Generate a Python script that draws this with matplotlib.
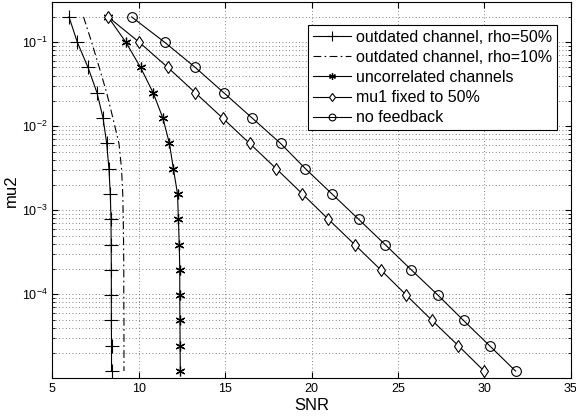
import numpy as np
import matplotlib.pyplot as plt
from matplotlib.ticker import LogLocator, NullFormatter, FixedLocator

plt.rcParams['font.family'] = ['Liberation Sans', 'DejaVu Sans']

mu2 = [0.2, 0.1, 0.05, 0.025, 0.0125, 0.00625, 0.003125, 0.0015625,
       7.8125e-4, 3.90625e-4, 1.953125e-4, 9.765625e-5, 4.8828125e-5,
       2.44140625e-5, 1.220703125e-5]

snr_rho50 = [5.96, 6.44, 7.06, 7.58, 7.93, 8.14, 8.27, 8.35, 8.39, 8.40,
             8.41, 8.41, 8.41, 8.42, 8.42]
snr_rho10 = [6.80, 7.27, 7.71, 8.14, 8.50, 8.85, 9.00, 9.07, 9.10, 9.12,
             9.13, 9.13, 9.14, 9.14, 9.14]
snr_uncorr = [8.22, 9.25, 10.10, 10.83, 11.39, 11.77, 12.00, 12.24, 12.29,
              12.34, 12.37, 12.37, 12.38, 12.39, 12.40]
snr_mu1 = [8.22, 10.02, 11.68, 13.27, 14.85, 16.41, 17.95, 19.47, 20.97,
           22.49, 24.00, 25.48, 26.97, 28.49, 29.98]
snr_nofb = [9.58, 11.49, 13.27, 14.92, 16.56, 18.20, 19.64, 21.18, 22.72,
            24.25, 25.77, 27.31, 28.79, 30.30, 31.80]

labels = ['outdated channel, rho=50%', 'outdated channel, rho=10%',
          'uncorrelated channels', 'mu1 fixed to 50%', 'no feedback']

fig = plt.figure(figsize=(5.76, 4.18), dpi=100)
ax = fig.add_axes([0.091, 0.095, 0.900, 0.9])

lw = 0.8
ax.semilogy(snr_rho50, mu2, 'k-', marker='+', ms=10, mew=0.8, lw=lw, label=labels[0])
ax.semilogy(snr_rho10, mu2, 'k', ls=(0, (7, 3, 1.5, 3)), lw=lw, label=labels[1])
ax.semilogy(snr_uncorr, mu2, 'k-', marker=(6, 2, 0), ms=7, mew=0.9, lw=lw, label=labels[2])
ax.semilogy(snr_mu1, mu2, 'k-', marker='d', ms=6.5, mfc='white', mew=0.8, lw=lw, label=labels[3])
ax.semilogy(snr_nofb, mu2, 'k-', marker='o', ms=7, mfc='none', mew=0.8, lw=lw, label=labels[4])

ax.set_xlim(5, 35)
ax.set_ylim(1e-5, 0.3)
ax.set_xticks([5, 10, 15, 20, 25, 30, 35])
ax.yaxis.set_major_locator(FixedLocator([1e-4, 1e-3, 1e-2, 1e-1]))
ax.yaxis.set_minor_locator(LogLocator(base=10, subs=np.arange(2, 10), numticks=20))
ax.yaxis.set_minor_formatter(NullFormatter())

grid_style = dict(linestyle=(0, (1, 3)), color='0.35', lw=0.6)
ax.grid(True, which='major', **grid_style)
ax.grid(True, which='minor', axis='y', **grid_style)
ax.tick_params(which='both', direction='in', top=True, right=True, labelsize=9)
ax.tick_params(which='major', length=4)
ax.tick_params(which='minor', length=2)

ax.set_xlabel('SNR', fontsize=12, labelpad=2)
ax.set_ylabel('mu2', fontsize=12, labelpad=2)

leg = ax.legend(loc='upper right', bbox_to_anchor=(0.973, 0.939), borderaxespad=0,
                fontsize=11.5, fancybox=False, framealpha=1, edgecolor='k',
                handlelength=2.4, handletextpad=0.3, labelspacing=0.32,
                borderpad=0.3, markerscale=0.7)
leg.get_frame().set_linewidth(0.8)

fig.savefig('out.png', dpi=100)
